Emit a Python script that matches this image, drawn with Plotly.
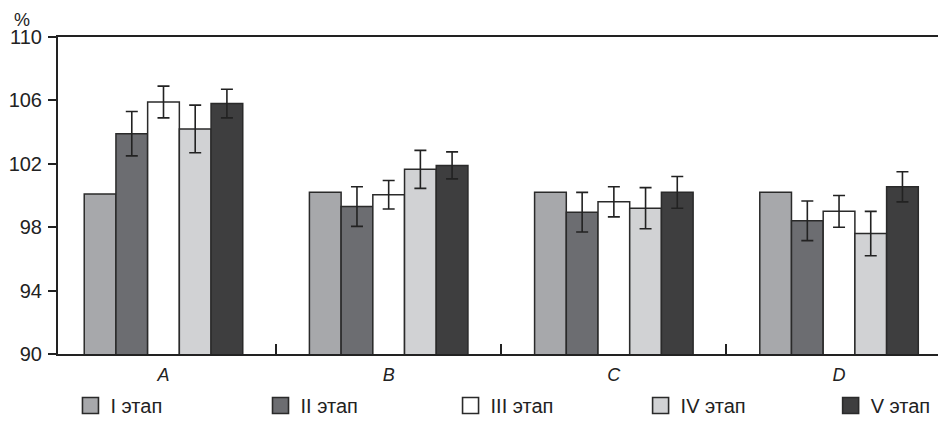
import plotly.graph_objects as go

categories = ["A", "B", "C", "D"]
stage_names = ["I этап", "II этап", "III этап", "IV этап", "V этап"]
stage_colors = ["#a7a8ab", "#6c6d71", "#ffffff", "#d1d2d4", "#3e3e3f"]

values_I = [100.1, 100.2, 100.2, 100.2]
values_II = [103.9, 99.3, 98.95, 98.4]
values_III = [105.9, 100.05, 99.6, 99.0]
values_IV = [104.2, 101.65, 99.2, 97.6]
values_V = [105.8, 101.9, 100.2, 100.55]

err_I = None
err_II = [1.4, 1.25, 1.25, 1.25]
err_III = [1.0, 0.9, 0.95, 1.0]
err_IV = [1.5, 1.2, 1.3, 1.4]
err_V = [0.9, 0.85, 1.0, 0.95]

y_ticks = [90, 94, 98, 102, 106, 110]

series = [values_I, values_II, values_III, values_IV, values_V]
errors = [err_I, err_II, err_III, err_IV, err_V]

FONT = "Liberation Sans, Arial, sans-serif"
EDGE = "#2a2a2a"
TXT = "#222222"

fig = go.Figure()
legend_ids = ["legend", "legend2", "legend3", "legend4", "legend5"]
for i, (name, vals, err, col) in enumerate(zip(stage_names, series, errors, stage_colors)):
    kw = {}
    if err is not None:
        kw["error_y"] = dict(type="data", array=err, visible=True,
                             color=TXT, thickness=1.6, width=6)
    fig.add_trace(go.Bar(
        x=categories, y=vals, name=name, showlegend=False,
        marker=dict(color=col, line=dict(color=EDGE, width=1.5)),
        **kw))
    # legend entry with larger square symbol
    fig.add_trace(go.Scatter(
        x=[None], y=[None], mode="markers", name=name, legend=legend_ids[i],
        marker=dict(symbol="square", size=16, color=col,
                    line=dict(color=EDGE, width=1.6))))

legend_common = dict(orientation="h", xref="container", yref="container",
                     xanchor="left", y=0.0513, yanchor="middle",
                     font=dict(family=FONT, size=20, color=TXT),
                     itemclick=False, itemdoubleclick=False,
                     bgcolor="rgba(0,0,0,0)")
legend_layout = {}
for i, lid in enumerate(legend_ids):
    legend_layout[lid] = dict(legend_common, x=0.0666 + 0.2026 * i)

fig.update_layout(
    width=938, height=419,
    margin=dict(l=50, r=0, t=29, b=73, autoexpand=False),
    paper_bgcolor="white", plot_bgcolor="white",
    barmode="group", bargap=0.296, bargroupgap=0,
    font=dict(family=FONT, size=20, color=TXT),
    showlegend=True,
    xaxis=dict(type="category", range=[-0.4685, 3.475],
               showline=True, linecolor=TXT, linewidth=2, mirror=True,
               ticks="inside", tickson="boundaries", ticklen=10,
               tickwidth=1.5, tickcolor=TXT, ticklabelstandoff=3,
               tickfont=dict(family=FONT, size=18, color=TXT, style="italic"),
               showgrid=False, zeroline=False),
    yaxis=dict(range=[90, 110], tickvals=y_ticks,
               showline=True, linecolor=TXT, linewidth=2,
               ticks="outside", ticklen=8, tickwidth=1.5, tickcolor=TXT,
               ticklabelstandoff=2,
               tickfont=dict(family=FONT, size=20, color=TXT),
               showgrid=False, zeroline=False),
    annotations=[dict(text="%", xref="paper", yref="paper",
                      x=-0.0405, y=1.0552, xanchor="center", yanchor="middle",
                      showarrow=False,
                      font=dict(family=FONT, size=18, color=TXT))],
    **legend_layout,
)

fig.write_html("out.html")
